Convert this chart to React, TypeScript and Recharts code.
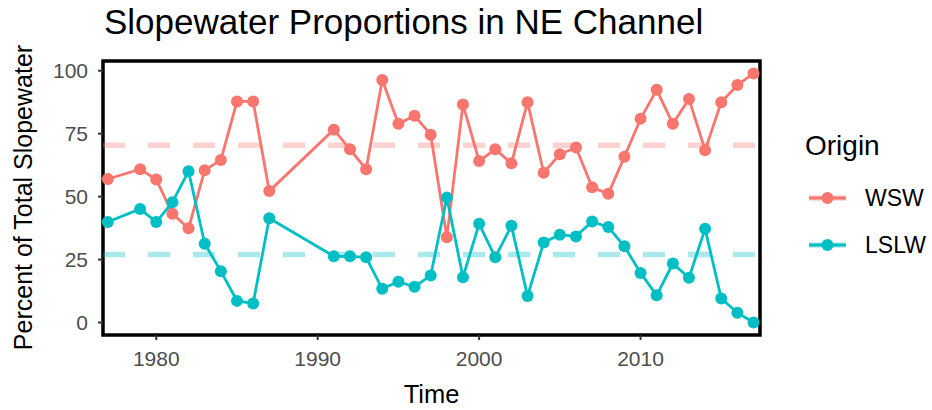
import { LineChart, Line, XAxis, YAxis, ReferenceLine, ReferenceArea } from 'recharts';

const years = [
    1977, 1979, 1980, 1981, 1982, 1983, 1984, 1985, 1986, 1987,
    1991, 1992, 1993, 1994, 1995, 1996, 1997, 1998, 1999, 2000,
    2001, 2002, 2003, 2004, 2005, 2006, 2007, 2008, 2009, 2010,
    2011, 2012, 2013, 2014, 2015, 2016, 2017,
];
const wsw = [
    57.0, 60.9, 56.8, 43.2, 37.4, 60.5, 64.5, 87.8, 87.8, 52.2,
    76.6, 68.8, 60.9, 96.3, 78.9, 82.1, 74.6, 33.9, 86.6, 64.1,
    68.8, 63.2, 87.5, 59.5, 66.8, 69.5, 53.7, 51.1, 65.8, 80.9,
    92.4, 78.9, 88.8, 68.4, 87.5, 94.3, 98.9,
];
const lslw = [
    39.9, 45.1, 39.9, 47.8, 60.1, 31.3, 20.4, 8.6, 7.6, 41.4,
    26.3, 26.3, 25.9, 13.4, 16.2, 14.2, 18.7, 49.6, 18.0, 39.2,
    25.9, 38.4, 10.5, 31.8, 34.9, 34.2, 40.1, 37.9, 30.3, 19.7,
    10.8, 23.4, 17.8, 37.2, 9.5, 3.9, 0.0,
];
const wswMean = 70.4;
const lslwMean = 27.0;

const xTicks = [1980, 1990, 2000, 2010];
const yTicks = [0, 25, 50, 75, 100];
const xDomain = [1976.7, 2017.4];
const yDomain = [-4.95, 103.85];

const data = years.map((year, i) => ({ year, WSW: wsw[i], LSLW: lslw[i] }));

const FONT = '"Liberation Sans", Arial, Helvetica, sans-serif';
const WSW_COLOR = '#F8766D';
const LSLW_COLOR = '#00BFC4';

const legendItems = [
    { name: 'WSW', color: WSW_COLOR },
    { name: 'LSLW', color: LSLW_COLOR },
];

const tickStyle = { fill: '#4D4D4D', fontSize: 21, fontFamily: FONT };

const App = () => {
    return (
        <div style={{ position: 'absolute', left: 0, top: 0, width: 932, height: 410, background: '#fff' }}>
            <LineChart width={932} height={410} data={data} margin={{ top: 61, right: 172, bottom: 0, left: 0 }}>
                <ReferenceLine y={wswMean} stroke={WSW_COLOR} strokeOpacity={0.33} strokeWidth={5.5} strokeDasharray="22 23" />
                <ReferenceLine y={lslwMean} stroke={LSLW_COLOR} strokeOpacity={0.33} strokeWidth={5.5} strokeDasharray="22 23" />
                <XAxis
                    dataKey="year"
                    type="number"
                    domain={xDomain}
                    ticks={xTicks}
                    height={75}
                    axisLine={false}
                    tickLine={{ stroke: '#333', strokeWidth: 2 }}
                    tickSize={5}
                    tickMargin={11}
                    tick={tickStyle}
                />
                <YAxis
                    type="number"
                    domain={yDomain}
                    ticks={yTicks}
                    width={103}
                    axisLine={false}
                    tickLine={{ stroke: '#333', strokeWidth: 2 }}
                    tickSize={5}
                    tickMargin={10}
                    tick={tickStyle}
                />
                <Line type="linear" dataKey="WSW" stroke={WSW_COLOR} strokeWidth={2.8}
                    dot={{ r: 6, fill: WSW_COLOR, stroke: WSW_COLOR, strokeWidth: 0 }} activeDot={false} isAnimationActive={false} />
                <Line type="linear" dataKey="LSLW" stroke={LSLW_COLOR} strokeWidth={2.8}
                    dot={{ r: 6, fill: LSLW_COLOR, stroke: LSLW_COLOR, strokeWidth: 0 }} activeDot={false} isAnimationActive={false} />
                <ReferenceArea x1={xDomain[0]} x2={xDomain[1]} y1={yDomain[0]} y2={yDomain[1]}
                    fill="none" fillOpacity={0} stroke="#000" strokeWidth={3.5} ifOverflow="visible" />
            </LineChart>
            <svg width={932} height={410} style={{ position: 'absolute', left: 0, top: 0, pointerEvents: 'none' }}>
                <text x={104} y={34} fontSize={35} fontFamily={FONT} fill="#000">Slopewater Proportions in NE Channel</text>
                <text transform="translate(32,197.5) rotate(-90)" textAnchor="middle" fontSize={25} fontFamily={FONT} fill="#000">Percent of Total Slopewater</text>
                <text x={431.5} y={403} textAnchor="middle" fontSize={25.5} fontFamily={FONT} fill="#000">Time</text>
                <text x={805} y={155} fontSize={28} fontFamily={FONT} fill="#000">Origin</text>
                {legendItems.map((item, i) => {
                    const cy = 198 + i * 47;
                    return (
                        <g key={item.name}>
                            <line x1={809} x2={846} y1={cy} y2={cy} stroke={item.color} strokeOpacity={0.33} strokeWidth={5.5} />
                            <line x1={809} x2={846} y1={cy} y2={cy} stroke={item.color} strokeWidth={2.8} />
                            <circle cx={827.5} cy={cy} r={6} fill={item.color} />
                            <text x={865} y={cy + 8} fontSize={23} fontFamily={FONT} fill="#000">{item.name}</text>
                        </g>
                    );
                })}
            </svg>
        </div>
    );
};

export default App;
